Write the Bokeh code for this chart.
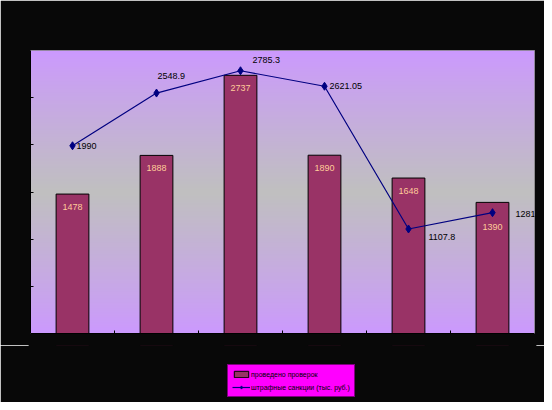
import numpy as np
from bokeh.plotting import figure
from bokeh.layouts import column
from bokeh.models import Range1d, FixedTicker, Legend, LegendItem, ColumnDataSource
from bokeh.core.properties import value
from bokeh.embed import file_html
from bokeh.resources import INLINE

# ---- data ----
checks = [1478, 1888, 2737, 1890, 1648, 1390]          # проведено проверок
fines = [1990, 2548.9, 2785.3, 2621.05, 1107.8, 1281]   # штрафные санкции (тыс. руб.)
check_labels = ["1478", "1888", "2737", "1890", "1648", "1390"]
fine_labels = ["1990", "2548.9", "2785.3", "2621.05", "1107.8", "1281"]
series_names = ["проведено проверок", "штрафные санкции (тыс. руб.)"]
y_ticks = [500, 1000, 1500, 2000, 2500]
y_max = 3000

# ---- styling / placement (not data) ----
bar_label_dy = [13, 13, 13, 13, 13, 25]
line_label_dx = [4, 1, 12, 5, 20, 23]
line_label_dy = [0, -17, -11, 0, 8, 1]
FONT = "Liberation Sans"
BG = "#080808"
BAR_COLOR = "#993366"
LINE_COLOR = "#000080"

n = len(checks)
xs = list(range(n))

p = figure(width=544, height=345, output_backend="svg", toolbar_location=None,
           x_range=Range1d(-0.5, n - 0.5), y_range=Range1d(0, y_max),
           min_border_left=30, min_border_right=10, min_border_top=50, min_border_bottom=12)
p.background_fill_color = "#cc99ff"
p.border_fill_color = BG
p.outline_line_color = "#808080"
p.xgrid.visible = False
p.ygrid.visible = False

# gradient background: purple top/bottom, grey middle
rows = 200
t = np.linspace(0, 1, rows)
w = np.clip(1 - np.abs(t - 0.5) / 0.5, 0, 1) ** 0.9
purple = np.array([204, 153, 255])
grey = np.array([192, 192, 192])
cols = purple[None, :] * (1 - w[:, None]) + grey[None, :] * w[:, None]
img = np.zeros((rows, 1), dtype=np.uint32)
view = img.view(dtype=np.uint8).reshape((rows, 1, 4))
view[:, 0, 0] = cols[:, 0]
view[:, 0, 1] = cols[:, 1]
view[:, 0, 2] = cols[:, 2]
view[:, 0, 3] = 255
xr, yr = p.x_range, p.y_range
p.image_rgba(image=[img], x=xr.start, y=yr.start, dw=xr.end - xr.start, dh=yr.end - yr.start, level="image")

src = ColumnDataSource(dict(x=xs, checks=checks, fines=fines, cl=check_labels, fl=fine_labels,
                            bdy=bar_label_dy, ldx=line_label_dx, ldy=line_label_dy))

p.vbar(x="x", top="checks", width=0.39, bottom=0, source=src,
       fill_color=BAR_COLOR, line_color="black", line_width=1)
p.line(x="x", y="fines", source=src, line_color=LINE_COLOR, line_width=1.2)
p.scatter(x="x", y="fines", source=src, marker="diamond", size=8,
          fill_color=LINE_COLOR, line_color=LINE_COLOR)

p.text(x="x", y="checks", text="cl", source=src, x_offset=0, y_offset="bdy",
       text_align="center", text_baseline="middle", text_color="#ffcc99",
       text_font=value(FONT), text_font_size="9px")
p.text(x="x", y="fines", text="fl", source=src, x_offset="ldx", y_offset="ldy",
       text_align="left", text_baseline="middle", text_color="black",
       text_font=value(FONT), text_font_size="9px")

# axes
p.yaxis.ticker = FixedTicker(ticks=y_ticks)
p.yaxis.major_label_overrides = {t_: "" for t_ in y_ticks}
p.yaxis.major_tick_in = 3
p.yaxis.major_tick_out = 0
p.yaxis.minor_tick_line_color = None
p.yaxis.axis_line_color = "black"
p.yaxis.major_tick_line_color = "black"

x_ticks = [i + 0.5 for i in range(n - 1)]
p.xaxis.ticker = FixedTicker(ticks=x_ticks)
p.xaxis.major_label_overrides = {t_: "" for t_ in x_ticks}
p.xaxis.major_label_standoff = 0
p.xaxis.major_tick_in = 3
p.xaxis.major_tick_out = 0
p.xaxis.minor_tick_line_color = None
p.xaxis.axis_line_color = "black"
p.xaxis.major_tick_line_color = "black"

# ---- legend strip below the chart (same series, drawn out of view; only the legend shows) ----
lh = 57
q = figure(width=544, height=lh, output_backend="svg", toolbar_location=None,
           x_axis_type=None, y_axis_type=None,
           x_range=Range1d(-0.5, n - 0.5), y_range=Range1d(-lh - 10, -10),
           min_border=0, min_border_left=30, min_border_right=10, min_border_top=0, min_border_bottom=0)
q.grid.visible = False
q.outline_line_color = BG
q.outline_line_width = 4
q.background_fill_color = BG
q.border_fill_color = BG
lb = q.vbar(x="x", top="checks", width=0.39, bottom=0, source=src,
            fill_color=BAR_COLOR, line_color="black", line_width=1)
ll = q.line(x="x", y="fines", source=src, line_color=LINE_COLOR, line_width=1.2)
lm = q.scatter(x="x", y="fines", source=src, marker="diamond", size=7,
               fill_color=LINE_COLOR, line_color=LINE_COLOR)

legend = Legend(items=[LegendItem(label=series_names[0], renderers=[lb]),
                       LegendItem(label=series_names[1], renderers=[ll, lm])],
                location=(197, 5), background_fill_color="#ff00ff", background_fill_alpha=1,
                border_line_color="black", label_text_font=FONT, label_text_font_size="7px",
                label_text_color="black", glyph_width=18, glyph_height=8, label_standoff=1,
                spacing=3, padding=4, margin=0, label_height=10)
q.add_layout(legend, "center")

layout = column(p, q, spacing=0)
open("out.html", "w").write(file_html(layout, INLINE))
